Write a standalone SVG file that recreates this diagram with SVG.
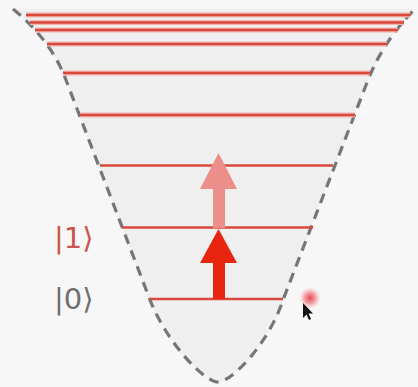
<svg xmlns="http://www.w3.org/2000/svg" width="418" height="387" viewBox="0 0 418 387">
  <defs>
    <style>
      .lvl-halo { stroke: #f3b4ab; stroke-width: 5; fill: none; }
      .lvl { stroke: #d8483c; stroke-width: 2.4; fill: none; }
      .well { stroke: #767676; stroke-width: 3.2; stroke-dasharray: 10 7; fill: none; }
      .lbl { font-family: "DejaVu Sans", "Liberation Sans", sans-serif; font-size: 29px; }
    </style>
    <radialGradient id="glow">
      <stop offset="0" stop-color="#e8303a" stop-opacity="0.9"/>
      <stop offset="0.5" stop-color="#ee5a60" stop-opacity="0.55"/>
      <stop offset="1" stop-color="#f6a0a4" stop-opacity="0"/>
    </radialGradient>
  </defs>
  <rect width="418" height="387" fill="#f7f7f7"/>
  <g id="well">
    <path d="M13,9 Q51,40 66,80 L150,300 C168,345 205,382 218,382 C231,382 268,345 283,300 L368,80 Q384,40 415,9 Z" fill="#efefef" stroke="none"/>
    <path class="well" d="M13,9 Q51,40 66,80 L150,300 C168,345 205,382 218,382 C231,382 268,345 283,300 L368,80 Q384,40 415,9"/>
  </g>
  <g id="levels">
    <g id="level8"><line class="lvl-halo" x1="26" y1="15" x2="410" y2="15"/><line class="lvl" x1="26" y1="15" x2="410" y2="15"/></g>
    <g id="level7"><line class="lvl-halo" x1="30" y1="22.5" x2="404" y2="22.5"/><line class="lvl" x1="30" y1="22.5" x2="404" y2="22.5"/></g>
    <g id="level6"><line class="lvl-halo" x1="35" y1="30" x2="398" y2="30"/><line class="lvl" x1="35" y1="30" x2="398" y2="30"/></g>
    <g id="level5"><line class="lvl-halo" x1="47" y1="44" x2="387" y2="44"/><line class="lvl" x1="47" y1="44" x2="387" y2="44"/></g>
    <g id="level4"><line class="lvl-halo" x1="63" y1="73" x2="370" y2="73"/><line class="lvl" x1="63" y1="73" x2="370" y2="73"/></g>
    <g id="level3"><line class="lvl-halo" x1="80" y1="115" x2="355" y2="115"/><line class="lvl" x1="80" y1="115" x2="355" y2="115"/></g>
    <g id="level2"><line class="lvl" x1="100" y1="165.5" x2="333" y2="165.5"/></g>
    <g id="level1"><line class="lvl" x1="122" y1="227.5" x2="313" y2="227.5"/></g>
    <g id="level0"><line class="lvl" x1="150" y1="299" x2="283" y2="299"/></g>
  </g>
  <g id="connectors">
    <g id="arrow-faint" fill="#ec8f8b">
      <rect x="213" y="187" width="12" height="41"/>
      <polygon points="200,189 237,189 218.5,153"/>
    </g>
    <g id="arrow-strong" fill="#e8250f">
      <rect x="213" y="261" width="12" height="38"/>
      <polygon points="200,263 237,263 218.5,229"/>
    </g>
  </g>
  <g id="label1"><text class="lbl" x="54" y="248" fill="#c9544c">|1⟩</text></g>
  <g id="label0"><text class="lbl" x="54" y="309" fill="#6f6f6f">|0⟩</text></g>
  <g id="cursor">
    <circle cx="310" cy="298" r="11" fill="url(#glow)"/>
    <polygon points="303,303 303,318 306.5,314.5 309,320 311,319 308.5,313.5 313,313.5" fill="#111"/>
  </g>
</svg>
